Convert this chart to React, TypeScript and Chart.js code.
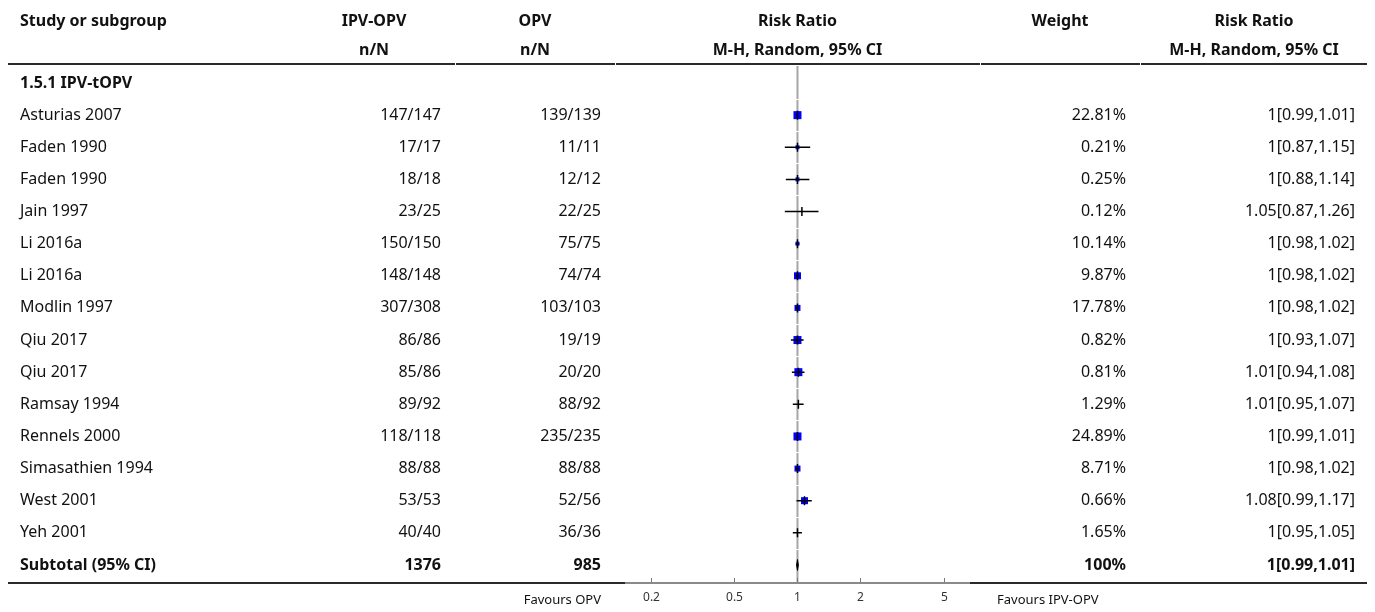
import React, { useEffect, useRef } from "react";
import { Chart, registerables } from "chart.js";

Chart.register(...registerables);

// ---- Data -------------------------------------------------------------
const subgroupLabel = "1.5.1 IPV-tOPV";
const studies = [
  "Asturias 2007",
  "Faden 1990",
  "Faden 1990",
  "Jain 1997",
  "Li 2016a",
  "Li 2016a",
  "Modlin 1997",
  "Qiu 2017",
  "Qiu 2017",
  "Ramsay 1994",
  "Rennels 2000",
  "Simasathien 1994",
  "West 2001",
  "Yeh 2001",
];
const ipvEvents = [147, 17, 18, 23, 150, 148, 307, 86, 85, 89, 118, 88, 53, 40];
const ipvTotals = [147, 17, 18, 25, 150, 148, 308, 86, 86, 92, 118, 88, 53, 40];
const opvEvents = [139, 11, 12, 22, 75, 74, 103, 19, 20, 88, 235, 88, 52, 36];
const opvTotals = [139, 11, 12, 25, 75, 74, 103, 19, 20, 92, 235, 88, 56, 36];
const weights = [22.81, 0.21, 0.25, 0.12, 10.14, 9.87, 17.78, 0.82, 0.81, 1.29, 24.89, 8.71, 0.66, 1.65];
const riskRatios = [1, 1, 1, 1.05, 1, 1, 1, 1, 1.01, 1.01, 1, 1, 1.08, 1];
const ciLower = [0.99, 0.87, 0.88, 0.87, 0.98, 0.98, 0.98, 0.93, 0.94, 0.95, 0.99, 0.98, 0.99, 0.95];
const ciUpper = [1.01, 1.15, 1.14, 1.26, 1.02, 1.02, 1.02, 1.07, 1.08, 1.07, 1.01, 1.02, 1.17, 1.05];

const pooledRR = 1;
const pooledLower = 0.99;
const pooledUpper = 1.01;
const pooledWeight = 100;

const axisTicks = [0.2, 0.5, 1, 2, 5];
const axisMin = 0.15;
const axisMax = 6.67;

// ---- Styling -----------------------------------------------------------
// side length (px) of each study's weight box
const boxSides = [8, 4, 4, 0, 4, 7, 6, 8, 8, 0, 8, 6, 7, 0];

const W = 1375;
const H = 612;
const FONT = "'Noto Sans', 'Open Sans', sans-serif";
const TEXT = "#111";
const BLUE = "#0000ff";

const firstRowY = 83;
const rowH = 32.13;
const plotTop = 64;
const plotBottom = 583;
const plotLeft = 625;
const plotRight = 970;
const rowCount = studies.length + 2; // subgroup title + studies + subtotal
const yMin = (plotTop - firstRowY) / rowH;
const yMax = (plotBottom - firstRowY) / rowH;

// column geometry
const colStudyX = 20;
const colIpvHead = 374;
const colIpvRight = 441;
const colOpvHead = 535;
const colOpvRight = 601;
const colWeightHead = 1060;
const colWeightRight = 1126;
const colRRHead = 1254;
const colRRRight = 1355;
const tableLeft = 8;
const tableRight = 1367;
const colBreaks = [455, 615, 980, 1140];

const fmt = (v: number) => String(Number(v.toFixed(2)));
const rrLabel = (rr: number, lo: number, hi: number) => `${fmt(rr)}[${fmt(lo)},${fmt(hi)}]`;

const sum = (a: number[]) => a.reduce((s, v) => s + v, 0);

function text(
  ctx: CanvasRenderingContext2D,
  s: string,
  x: number,
  y: number,
  align: CanvasTextAlign,
  bold = false,
  size = 16,
  color = TEXT
) {
  ctx.font = `${bold ? "bold " : ""}${size}px ${FONT}`;
  ctx.fillStyle = color;
  ctx.textAlign = align;
  ctx.textBaseline = "middle";
  ctx.fillText(s, x, y);
}

const forestPlugin = {
  id: "forestTable",
  beforeDatasetsDraw(chart: any) {
    const { ctx } = chart;
    const xs = chart.scales.x;
    const ys = chart.scales.y;
    const x1 = xs.getPixelForValue(1);
    ctx.save();
    // line of no effect
    ctx.strokeStyle = "#a6a6a6";
    ctx.lineWidth = 2;
    ctx.beginPath();
    ctx.moveTo(x1, plotTop + 2);
    ctx.lineTo(x1, plotBottom);
    ctx.stroke();
    // row separators cut through it
    ctx.fillStyle = "#ffffff";
    for (let r = 0; r < rowCount - 1; r++) {
      const y = ys.getPixelForValue(r + 0.5);
      ctx.fillRect(x1 - 2, Math.round(y), 4, 1);
    }
    ctx.restore();
  },
  afterDatasetsDraw(chart: any) {
    const { ctx } = chart;
    const xs = chart.scales.x;
    const ys = chart.scales.y;
    ctx.save();
    ctx.strokeStyle = "#000";
    ctx.lineWidth = 1.5;
    riskRatios.forEach((rr, i) => {
      const y = ys.getPixelForValue(i + 1);
      const xl = xs.getPixelForValue(ciLower[i]);
      const xh = xs.getPixelForValue(ciUpper[i]);
      const xp = xs.getPixelForValue(rr);
      ctx.beginPath();
      ctx.moveTo(xl, y);
      ctx.lineTo(xh, y);
      ctx.moveTo(xp, y - 4.5);
      ctx.lineTo(xp, y + 4.5);
      ctx.stroke();
    });
    // pooled diamond
    const yd = ys.getPixelForValue(rowCount - 1);
    const xl = xs.getPixelForValue(pooledLower);
    const xh = xs.getPixelForValue(pooledUpper);
    const xp = xs.getPixelForValue(pooledRR);
    ctx.fillStyle = "#000";
    ctx.lineWidth = 1;
    ctx.beginPath();
    ctx.moveTo(xl, yd);
    ctx.lineTo(xp, yd - 5.5);
    ctx.lineTo(xh, yd);
    ctx.lineTo(xp, yd + 5.5);
    ctx.closePath();
    ctx.fill();
    ctx.stroke();
    ctx.restore();
  },
  afterDraw(chart: any) {
    const { ctx } = chart;
    const xs = chart.scales.x;
    const ys = chart.scales.y;
    const area = chart.chartArea;
    ctx.save();

    // header
    const h1 = 21;
    const h2 = 50;
    text(ctx, "Study or subgroup", colStudyX, h1, "left", true);
    text(ctx, "IPV-OPV", colIpvHead, h1, "center", true);
    text(ctx, "n/N", colIpvHead, h2, "center", true);
    text(ctx, "OPV", colOpvHead, h1, "center", true);
    text(ctx, "n/N", colOpvHead, h2, "center", true);
    text(ctx, "Risk Ratio", (area.left + area.right) / 2, h1, "center", true);
    text(ctx, "M-H, Random, 95% CI", (area.left + area.right) / 2, h2, "center", true);
    text(ctx, "Weight", colWeightHead, h1, "center", true);
    text(ctx, "Risk Ratio", colRRHead, h1, "center", true);
    text(ctx, "M-H, Random, 95% CI", colRRHead, h2, "center", true);

    // header rule with small breaks at column borders
    ctx.fillStyle = "#2a2a2a";
    let start = tableLeft;
    [...colBreaks, tableRight].forEach((b) => {
      ctx.fillRect(start, plotTop - 1, b - start, 2);
      start = b + 1;
    });

    // subgroup title
    text(ctx, subgroupLabel, colStudyX, ys.getPixelForValue(0), "left", true);

    // study rows
    studies.forEach((name, i) => {
      const y = ys.getPixelForValue(i + 1);
      text(ctx, name, colStudyX, y, "left");
      text(ctx, `${ipvEvents[i]}/${ipvTotals[i]}`, colIpvRight, y, "right");
      text(ctx, `${opvEvents[i]}/${opvTotals[i]}`, colOpvRight, y, "right");
      text(ctx, `${weights[i].toFixed(2)}%`, colWeightRight, y, "right");
      text(ctx, rrLabel(riskRatios[i], ciLower[i], ciUpper[i]), colRRRight, y, "right");
    });

    // subtotal row
    const ys2 = ys.getPixelForValue(rowCount - 1);
    text(ctx, "Subtotal (95% CI)", colStudyX, ys2, "left", true);
    text(ctx, String(sum(ipvTotals)), colIpvRight, ys2, "right", true);
    text(ctx, String(sum(opvTotals)), colOpvRight, ys2, "right", true);
    text(ctx, `${pooledWeight}%`, colWeightRight, ys2, "right", true);
    text(ctx, rrLabel(pooledRR, pooledLower, pooledUpper), colRRRight, ys2, "right", true);

    // bottom rule and axis
    ctx.fillStyle = "#2a2a2a";
    ctx.fillRect(tableLeft, plotBottom - 1, area.left - tableLeft, 2);
    ctx.fillRect(area.right, plotBottom - 1, tableRight - area.right, 2);
    ctx.fillStyle = "#8a8a8a";
    ctx.fillRect(area.left, plotBottom - 1, area.right - area.left, 2);
    ctx.strokeStyle = "#777";
    ctx.lineWidth = 1;
    axisTicks.forEach((t) => {
      const x = Math.round(xs.getPixelForValue(t)) + 0.5;
      ctx.beginPath();
      ctx.moveTo(x, plotBottom - 1);
      ctx.lineTo(x, plotBottom - 5);
      ctx.stroke();
      text(ctx, String(t), x, 598, "center", false, 12, "#333");
    });
    text(ctx, "Favours OPV", colOpvRight, 600, "right", false, 13);
    text(ctx, "Favours IPV-OPV", area.right + 27, 600, "left", false, 13);

    ctx.restore();
  },
};

export default function App() {
  const canvasRef = useRef<HTMLCanvasElement | null>(null);

  useEffect(() => {
    const canvas = canvasRef.current;
    if (!canvas) return;
    const chart = new Chart(canvas, {
      type: "scatter",
      data: {
        datasets: [
          {
            data: riskRatios.map((v, i) => ({ x: v, y: i + 1 })),
            pointStyle: "rect",
            pointRadius: boxSides.map((s) => s / Math.SQRT2),
            pointBackgroundColor: BLUE,
            pointBorderWidth: 0,
            borderWidth: 0,
          },
        ],
      },
      options: {
        responsive: false,
        animation: false,
        events: [],
        devicePixelRatio: 1,
        layout: {
          padding: {
            left: plotLeft,
            right: W - plotRight,
            top: plotTop,
            bottom: H - plotBottom,
          },
        },
        plugins: {
          legend: { display: false },
          tooltip: { enabled: false },
        },
        scales: {
          x: { type: "logarithmic", display: false, min: axisMin, max: axisMax },
          y: { type: "linear", display: false, reverse: true, min: yMin, max: yMax },
        },
      },
      plugins: [forestPlugin],
    });
    return () => chart.destroy();
  }, []);

  return (
    <div style={{ position: "absolute", left: 0, top: 0, width: W, height: H, background: "#fff" }}>
      <canvas ref={canvasRef} width={W} height={H} style={{ width: W, height: H, display: "block" }} />
    </div>
  );
}
